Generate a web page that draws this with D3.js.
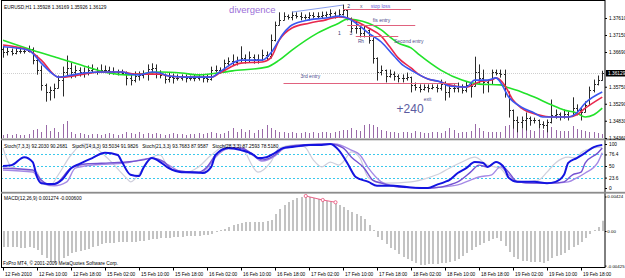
<!DOCTYPE html>
<html><head><meta charset="utf-8">
<script src="https://cdn.jsdelivr.net/npm/d3@7"></script>
<style>body{margin:0;background:#fff}svg{display:block}text{font-family:"Liberation Sans",Arial,sans-serif}</style>
</head><body><svg id="c" width="625" height="278"></svg>
<script>
// ---------------- DATA ----------------
const open=[1.3677,1.3669,1.3672,1.3666,1.3672,1.3672,1.3672,1.3677,1.3647,1.3620,
1.3580,1.3561,1.3566,1.3572,1.3593,1.3615,1.3626,1.3615,1.3620,1.3615,
1.3612,1.3620,1.3623,1.3618,1.3620,1.3620,1.3618,1.3615,1.3615,1.3612,
1.3599,1.3593,1.3604,1.3607,1.3609,1.3623,1.3626,1.3609,1.3607,1.3596,
1.3601,1.3599,1.3599,1.3601,1.3599,1.3599,1.3599,1.3601,1.3599,1.3596,
1.3620,1.3620,1.3620,1.3639,1.3645,1.3642,1.3647,1.3653,1.3647,1.3655,
1.3650,1.3647,1.3661,1.3658,1.3701,1.3742,1.3756,1.3766,1.3764,1.3769,
1.3766,1.3764,1.3764,1.3769,1.3766,1.3766,1.3769,1.3772,1.3775,1.3766,
1.3772,1.3783,1.3761,1.3734,1.3734,1.3720,1.3729,1.3701,1.3653,1.3615,
1.3620,1.3604,1.3609,1.3604,1.3599,1.3599,1.3601,1.3580,1.3574,1.3569,
1.3574,1.3572,1.3574,1.3572,1.3582,1.3561,1.3572,1.3572,1.3577,1.3566,
1.3580,1.3577,1.3615,1.3599,1.3588,1.3582,1.3615,1.3612,1.3609,1.3561,
1.3512,1.3485,1.3480,1.3485,1.3490,1.3485,1.3485,1.3474,1.3471,1.3480,
1.3499,1.3501,1.3496,1.3501,1.3496,1.3517,1.3512,1.3507,1.3526,1.3566,
1.3582,1.35928];
const high=[1.3683,1.3680,1.3677,1.3680,1.3677,1.3674,1.3685,1.3680,1.3658,1.3631,
1.3582,1.3574,1.3582,1.3604,1.3628,1.3658,1.3639,1.3631,1.3626,1.3626,
1.3631,1.3634,1.3626,1.3634,1.3631,1.3628,1.3626,1.3620,1.3620,1.3615,
1.3609,1.3615,1.3615,1.3618,1.3634,1.3637,1.3634,1.3618,1.3609,1.3612,
1.3609,1.3607,1.3607,1.3607,1.3604,1.3607,1.3607,1.3607,1.3607,1.3628,
1.3631,1.3626,1.3647,1.3653,1.3661,1.3655,1.3683,1.3661,1.3669,1.3661,
1.3661,1.3674,1.3669,1.3715,1.3750,1.3775,1.3775,1.3769,1.3777,1.3775,
1.3775,1.3769,1.3775,1.3775,1.3775,1.3777,1.3777,1.3783,1.3777,1.3783,
1.3796,1.3783,1.3761,1.3750,1.3739,1.3739,1.3729,1.3707,1.3653,1.3631,
1.3620,1.3620,1.3615,1.3607,1.3607,1.3612,1.3601,1.3585,1.3580,1.3580,
1.3580,1.3580,1.3580,1.3593,1.3588,1.3580,1.3580,1.3585,1.3580,1.3588,
1.3585,1.3655,1.3634,1.3620,1.3593,1.3620,1.3620,1.3620,1.3620,1.3561,
1.3512,1.3493,1.3493,1.3504,1.3493,1.3490,1.3485,1.3480,1.3485,1.3539,
1.3512,1.3504,1.3512,1.3507,1.3545,1.3526,1.3517,1.3534,1.3574,1.3593,
1.3604,1.36169];
const low=[1.3655,1.3661,1.3661,1.3664,1.3666,1.3666,1.3669,1.3637,1.3609,1.3566,
1.3536,1.3539,1.3545,1.3572,1.3550,1.3604,1.3599,1.3601,1.3604,1.3601,
1.3607,1.3615,1.3609,1.3615,1.3615,1.3609,1.3609,1.3607,1.3609,1.3580,
1.3580,1.3588,1.3593,1.3599,1.3593,1.3612,1.3599,1.3599,1.3585,1.3588,
1.3585,1.3593,1.3593,1.3588,1.3593,1.3591,1.3593,1.3588,1.3588,1.3593,
1.3615,1.3612,1.3620,1.3634,1.3634,1.3634,1.3642,1.3639,1.3642,1.3639,
1.3639,1.3647,1.3647,1.3653,1.3699,1.3742,1.3756,1.3758,1.3756,1.3761,
1.3756,1.3758,1.3756,1.3761,1.3761,1.3761,1.3764,1.3764,1.3761,1.3764,
1.3769,1.3756,1.3723,1.3720,1.3710,1.3710,1.3693,1.3639,1.3593,1.3607,
1.3588,1.3601,1.3593,1.3588,1.3588,1.3593,1.3561,1.3566,1.3561,1.3566,
1.3561,1.3569,1.3561,1.3566,1.3539,1.3547,1.3561,1.3561,1.3558,1.3561,
1.3547,1.3577,1.3585,1.3558,1.3561,1.3582,1.3607,1.3601,1.3547,1.3493,
1.3463,1.3453,1.3463,1.3458,1.3471,1.3477,1.3463,1.3463,1.3453,1.3477,
1.3490,1.3485,1.3490,1.3485,1.3496,1.3499,1.3485,1.3507,1.3526,1.3561,
1.3580,1.35926];
const close=[1.3669,1.3672,1.3666,1.3672,1.3672,1.3672,1.3677,1.3647,1.3620,1.3580,
1.3561,1.3566,1.3572,1.3593,1.3615,1.3626,1.3615,1.3620,1.3615,1.3612,
1.3620,1.3623,1.3618,1.3620,1.3620,1.3618,1.3615,1.3615,1.3612,1.3599,
1.3593,1.3604,1.3607,1.3609,1.3623,1.3626,1.3609,1.3607,1.3596,1.3601,
1.3599,1.3599,1.3601,1.3599,1.3599,1.3599,1.3601,1.3599,1.3596,1.3620,
1.3620,1.3620,1.3639,1.3645,1.3642,1.3647,1.3653,1.3647,1.3655,1.3650,
1.3647,1.3661,1.3658,1.3701,1.3742,1.3756,1.3766,1.3764,1.3769,1.3766,
1.3764,1.3764,1.3769,1.3766,1.3766,1.3769,1.3772,1.3775,1.3766,1.3772,
1.3783,1.3761,1.3734,1.3734,1.3720,1.3729,1.3701,1.3653,1.3615,1.3620,
1.3604,1.3609,1.3604,1.3599,1.3599,1.3601,1.3580,1.3574,1.3569,1.3574,
1.3572,1.3574,1.3572,1.3582,1.3561,1.3572,1.3572,1.3577,1.3566,1.3580,
1.3577,1.3615,1.3599,1.3588,1.3582,1.3615,1.3612,1.3609,1.3561,1.3512,
1.3485,1.3480,1.3485,1.3490,1.3485,1.3485,1.3474,1.3471,1.3480,1.3499,
1.3501,1.3496,1.3501,1.3496,1.3517,1.3512,1.3507,1.3526,1.3566,1.3582,
1.3593,1.36129];
const volume=[750,1000,750,1000,750,750,1000,2000,2250,1500,3250,1750,2500,1500,3500,4250,1500,
1000,1250,1000,750,1000,1000,750,1000,1250,1000,750,1000,
1500,1250,1000,1500,1000,1250,1000,1250,
1000,750,1000,1250,1000,1000,750,1000,1000,1250,1000,1250,
1500,1250,1000,1250,1750,2500,1500,2250,1500,2000,1250,2000,2250,3250,2500,2000,1500,1500,
1250,1500,1250,1250,1500,1250,1500,1250,1500,1500,1250,1500,1750,2000,
2000,2500,2000,1750,3250,3500,3250,2750,2000,1750,1500,1500,
1250,1500,1500,1250,1750,1500,1250,1250,1500,1500,1250,1750,2500,2000,1250,1500,1500,1750,
3500,2500,1750,1500,1500,1500,1500,3000,3250,2500,3000,2250,2500,2000,1750,2250,2000,2500,2750,2000,1750,1750,1750,3000,2250,2000,1750,1500,1500,1250,1000];
// moving averages, sampled [bar, price]
const maFast=[[0,1.3683],[6,1.3674],[9,1.3639],[12,1.3607],[13,1.3601],[15,1.3604],[19,1.3612],[23,1.3615],[28,1.3615],[30,1.3609],[32,1.3607],[35,1.3615],[37,1.3612],[39,1.3604],[43,1.3601],[49,1.3601],[51,1.3615],[56,1.3647],[61,1.3647],[63,1.3666],[66,1.3720],[68,1.3742],[72,1.3756],[76,1.3761],[79,1.3766],[81,1.3761],[84,1.3739],[86,1.3720],[89,1.3696],[92,1.3658],[94,1.3634],[96,1.3620],[100,1.3596],[103,1.3588],[105,1.3577],[109,1.3574],[111,1.3593],[114,1.3593],[116,1.3599],[117,1.3588],[119,1.3547],[122,1.3520],[125,1.3504],[127,1.3493],[133,1.3493],[135,1.3504],[137,1.3531],[141,1.3561]];
const maMid=[[0,1.3688],[6,1.3674],[9,1.3647],[13,1.3601],[14,1.3601],[19,1.3609],[23,1.3615],[28,1.3615],[31,1.3609],[37,1.3609],[39,1.3604],[43,1.3601],[49,1.3601],[51,1.3612],[56,1.3639],[61,1.3642],[63,1.3653],[65,1.3701],[68,1.3734],[72,1.3747],[76,1.3756],[79,1.3764],[81,1.3761],[84,1.3747],[86,1.3734],[89,1.3712],[91,1.3683],[93,1.3653],[96,1.3626],[98,1.3607],[100,1.3596],[103,1.3588],[105,1.3580],[109,1.3574],[112,1.3588],[115,1.3593],[116,1.3599],[118,1.3580],[120,1.3539],[122,1.3517],[126,1.3499],[129,1.3493],[133,1.3493],[135,1.3499],[137,1.3517],[141,1.3547]];
const maSlow=[[0,1.3701],[7,1.3674],[13,1.3653],[20,1.3628],[25,1.3612],[29,1.3607],[32,1.3609],[37,1.3615],[42,1.3612],[46,1.3607],[54,1.3618],[62,1.3628],[65,1.3647],[68,1.3674],[74,1.3720],[79,1.3747],[81,1.3758],[83,1.3756],[86,1.3747],[89,1.3729],[91,1.3710],[93,1.3693],[96,1.3680],[98,1.3661],[103,1.3620],[108,1.3593],[112,1.3582],[117,1.3580],[119,1.3572],[122,1.3561],[125,1.3547],[129,1.3526],[132,1.3512],[135,1.3504],[137,1.3493],[139,1.3499],[141,1.3517]];
// stochastics, sampled [bar, value]
const stoch7=[[0,91],[2,48],[5,41],[8,36],[9,14],[11,5],[13,30],[16,75],[19,100],[20,100],[23,82],[25,64],[29,23],[30,14],[33,45],[35,70],[37,75],[39,45],[43,36],[46,48],[49,75],[53,98],[56,98],[57,82],[59,45],[60,36],[63,59],[65,91],[69,98],[71,93],[73,64],[75,48],[77,59],[79,52],[80,59],[82,82],[84,68],[86,23],[90,11],[96,14],[100,23],[103,34],[105,45],[108,59],[111,70],[114,52],[117,45],[119,23],[123,14],[126,18],[128,36],[130,57],[133,70],[135,68],[136,80],[139,91],[141,93]];
const stoch14=[[0,50],[2,52],[5,70],[7,59],[8,25],[9,11],[12,9],[14,20],[16,45],[18,55],[21,68],[24,80],[27,75],[28,59],[30,30],[32,27],[33,45],[35,68],[37,59],[39,45],[42,36],[44,36],[47,34],[49,48],[50,75],[53,91],[56,86],[59,75],[60,68],[62,70],[64,80],[66,91],[68,93],[72,98],[75,98],[77,100],[79,86],[81,57],[83,25],[86,14],[88,5],[92,5],[95,2],[98,0],[100,0],[102,7],[104,14],[105,18],[107,34],[109,45],[111,59],[113,57],[114,48],[116,59],[118,45],[119,23],[121,14],[125,14],[128,11],[130,14],[132,30],[133,57],[135,68],[137,80],[139,93],[141,98]];
const stoch21=[[0,45],[7,41],[9,18],[11,7],[13,14],[16,45],[20,55],[25,57],[29,59],[33,64],[35,68],[38,59],[40,41],[46,36],[48,48],[50,75],[53,91],[56,91],[59,75],[61,64],[64,75],[66,91],[70,98],[77,100],[80,91],[82,70],[85,45],[87,18],[89,11],[93,2],[100,0],[103,2],[105,7],[107,14],[110,36],[112,52],[114,48],[116,59],[119,36],[121,14],[125,11],[129,11],[132,14],[134,30],[136,36],[137,57],[140,80],[141,91]];
const stoch28=[[0,41],[7,36],[9,14],[12,5],[15,14],[17,45],[21,52],[29,57],[35,68],[39,52],[42,36],[46,34],[48,45],[50,70],[53,89],[56,89],[59,73],[61,61],[64,73],[66,89],[70,95],[78,100],[82,86],[84,75],[86,45],[89,14],[91,7],[96,2],[100,0],[103,2],[107,7],[110,18],[112,25],[115,30],[117,48],[119,30],[121,14],[125,11],[129,11],[133,14],[135,23],[137,34],[140,59],[141,80]];
const macd=[-0.00197,-0.00197,-0.00197,-0.00197,-0.00209,-0.00209,-0.00197,-0.00209,
-0.00234,-0.00295,-0.00332,-0.00381,-0.00393,-0.00369,-0.00332,-0.00307,
-0.00270,-0.00258,-0.00246,-0.00234,-0.00221,-0.00197,-0.00184,-0.00160,
-0.00147,-0.00147,-0.00147,-0.00135,-0.00135,-0.00135,-0.00135,-0.00135,
-0.00123,-0.00123,-0.00111,-0.00098,-0.00098,-0.00086,-0.00086,-0.00086,
-0.00074,-0.00074,-0.00074,-0.00061,-0.00061,-0.00061,-0.00061,-0.00049,
-0.00049,-0.00037,-0.00012,0.00012,0.00025,0.00049,0.00074,0.00086,
0.00098,0.00111,0.00111,0.00111,0.00111,0.00111,0.00123,0.00135,
0.00209,0.00270,0.00320,0.00356,0.00381,0.00406,0.00418,0.00430,
0.00418,0.00406,0.00393,0.00381,0.00369,0.00356,0.00344,0.00320,
0.00295,0.00258,0.00234,0.00209,0.00184,0.00147,0.00074,0.00012,
-0.00074,-0.00111,-0.00160,-0.00209,-0.00234,-0.00283,-0.00320,-0.00344,
-0.00369,-0.00393,-0.00418,-0.00418,-0.00406,-0.00406,-0.00406,-0.00393,
-0.00393,-0.00381,-0.00369,-0.00344,-0.00307,-0.00270,-0.00234,-0.00197,
-0.00172,-0.00147,-0.00123,-0.00098,-0.00086,-0.00123,-0.00184,-0.00258,
-0.00320,-0.00344,-0.00369,-0.00369,-0.00381,-0.00381,-0.00381,-0.00393,
-0.00369,-0.00332,-0.00307,-0.00295,-0.00270,-0.00234,-0.00197,-0.00172,
-0.00135,-0.00086,-0.00037,0.00012,0.00049,0.00127];
// hand-drawn objects
const divergencePrice=[[68,1.3777],[80,1.3796]];
const divergenceMacd=[[71,0.00430],[75,0.00381],[78,0.00353]];
const levelPrice=[1.3785,1.3742,1.3712,1.3585];
const levelFrom=[80,81,83,66];
const levelTo=[96,97,93,107];
const noteText=['divergence','x','stop loss','fis entry','Rh','Second entry','3rd entry','exit','+240','1','2','3'];
const noteBar=[53.2,84,86.5,87,83.5,92,70,99,92.6,78.8,81,81.5];
const notePrice=[1.3775,1.3788,1.3789,1.3749,1.3693,1.3693,1.3599,1.3536,1.3503,1.3715,1.3787,1.3715];
// axes
const priceTicks=[1.3761,1.3715,1.3669,1.3575,1.3529,1.3483,1.3436];
const lastPrice=1.36129;
const stochTicks=[100,76.4,50,23.6,0];
const stochLevels=[76.4,50,23.6];
const macdTicks=[0.00424,0,-0.00425];
const timeBars=[0,8,16,24,32,40,48,56,64,72,80,88,96,104,112,120,128,136];
const timeLabels=['12 Feb 2010','12 Feb 10:00','12 Feb 18:00','15 Feb 02:00','15 Feb 10:00','15 Feb 18:00','16 Feb 02:00','16 Feb 10:00','16 Feb 18:00','17 Feb 02:00','17 Feb 10:00','17 Feb 18:00','18 Feb 02:00','18 Feb 10:00','18 Feb 18:00','19 Feb 02:00','19 Feb 10:00','19 Feb 18:00'];
const headerMain='EURUSD,H1  1.35928 1.36169 1.35926 1.36129';
const stochNames=['Stoch(7,3,3) 92.2030 90.2681','Stoch(14,3,3) 93.5034 91.9826','Stoch(21,3,3) 93.7683 87.9587','Stoch(28,3,3) 87.2593 78.5180'];
const headerMacd='MACD(12,26,9) 0.001274 -0.000600';
const footer='FxPro MT4, © 2001-2009 MetaQuotes Software Corp.';

// ---------------- DRAW ----------------
const svg=d3.select('#c');
const R=605;
const x=d3.scaleLinear().domain([0,141]).range([3,602.25]);
const yP=d3.scaleLinear().domain([1.3439,1.3761]).range([137,18]);
const yV=d3.scaleLinear().domain([0,5000]).range([138,118]);
const yS=d3.scaleLinear().domain([0,100]).range([188,144]);
const yM=d3.scaleLinear().domain([-0.00424,0.00424]).range([265.5,196.5]);
const px=i=>Math.round(x(i))+0.5;

const defs=svg.append('defs');
[['cm',1,1,R-1,137],['cs',1,140,R-1,51],['cd',1,194,R-1,73]].forEach(c=>{
  defs.append('clipPath').attr('id',c[0]).append('rect').attr('x',c[1]).attr('y',c[2]).attr('width',c[3]).attr('height',c[4]);
});
svg.append('rect').attr('width',625).attr('height',278).attr('fill','#fff');

// main panel
const gm=svg.append('g').attr('clip-path','url(#cm)');
gm.append('line').attr('x1',1).attr('x2',R).attr('y1',Math.round(yP(lastPrice))+0.5).attr('y2',Math.round(yP(lastPrice))+0.5).attr('stroke','#cfcfcf').attr('stroke-dasharray','1,1');
gm.append('g').attr('stroke','#9a6aa8').attr('stroke-width',1).selectAll('line').data(volume).join('line')
  .attr('x1',(d,i)=>px(i)).attr('x2',(d,i)=>px(i)).attr('y1',yV(0)).attr('y2',d=>yV(d));
const idx=d3.range(close.length);
const gb=gm.append('g').attr('stroke','#2a2a2a').attr('stroke-width',1);
gb.selectAll('.hl').data(idx).join('line').attr('x1',px).attr('x2',px).attr('y1',i=>yP(high[i])-0.5).attr('y2',i=>yP(low[i])+0.5);
gb.selectAll('.op').data(idx).join('line').attr('x1',i=>px(i)-1.5).attr('x2',i=>px(i)).attr('y1',i=>Math.round(yP(open[i]))+0.5).attr('y2',i=>Math.round(yP(open[i]))+0.5);
gb.selectAll('.cl').data(idx).join('line').attr('x1',i=>px(i)).attr('x2',i=>px(i)+1.5).attr('y1',i=>Math.round(yP(close[i]))+0.5).attr('y2',i=>Math.round(yP(close[i]))+0.5);

const lineP=d3.line().x(d=>x(d[0])).y(d=>yP(d[1])).curve(d3.curveMonotoneX);
gm.append('path').attr('d',lineP(maSlow)).attr('fill','none').attr('stroke','#22e22a').attr('stroke-width',1.6);
gm.append('path').attr('d',lineP(maMid)).attr('fill','none').attr('stroke','#e8284e').attr('stroke-width',1.6);
gm.append('path').attr('d',lineP(maFast)).attr('fill','none').attr('stroke','#3a56f0').attr('stroke-width',1.6);
gm.append('path').attr('d',d3.line().x(d=>x(d[0])).y(d=>yP(d[1]))(divergencePrice)).attr('fill','none').attr('stroke','#6b86e8').attr('stroke-width',0.8);
levelPrice.forEach((p,k)=>{
  gm.append('line').attr('x1',x(levelFrom[k])).attr('x2',x(levelTo[k])).attr('y1',Math.round(yP(p))+0.5).attr('y2',Math.round(yP(p))+0.5).attr('stroke','#e0627e').attr('stroke-width',1);
});
const noteSize=[9.5,5,5,5,4.8,5,5,4.8,12,5,5,5];
const noteColor=['#9b6fd8','#555577','#6a5ad8','#4a4a8a','#4a4a8a','#4a4a8a','#4a4a8a','#4a4a8a','#5b5ba0','#333366','#333366','#333366'];
noteText.forEach((t,k)=>{
  gm.append('text').attr('x',x(noteBar[k])).attr('y',yP(notePrice[k])).attr('font-size',noteSize[k]).attr('fill',noteColor[k]).text(t);
});

// stochastic panel
const gs=svg.append('g').attr('clip-path','url(#cs)');
stochLevels.forEach(v=>{
  gs.append('line').attr('x1',1).attr('x2',R).attr('y1',Math.round(yS(v))+0.5).attr('y2',Math.round(yS(v))+0.5).attr('stroke','#3cc8ec').attr('stroke-dasharray','2,2');
});
const lineS=d3.line().x(d=>x(d[0])).y(d=>yS(d[1])).curve(d3.curveMonotoneX);
gs.append('path').attr('d',lineS(stoch7)).attr('fill','none').attr('stroke','#cfcfdc').attr('stroke-width',1.2);
gs.append('path').attr('d',lineS(stoch28)).attr('fill','none').attr('stroke','#a58ae6').attr('stroke-width',1.4);
gs.append('path').attr('d',lineS(stoch21)).attr('fill','none').attr('stroke','#7552d2').attr('stroke-width',1.4);
gs.append('path').attr('d',lineS(stoch14)).attr('fill','none').attr('stroke','#1414e0').attr('stroke-width',2);

// MACD panel
const gd=svg.append('g').attr('clip-path','url(#cd)');
gd.append('g').attr('stroke','#c3c3c3').attr('stroke-width',2).selectAll('line').data(macd).join('line')
  .attr('x1',(d,i)=>Math.round(x(i))+1).attr('x2',(d,i)=>Math.round(x(i))+1).attr('y1',yM(0)).attr('y2',d=>yM(d));
gd.append('path').attr('d',d3.line().x(d=>x(d[0])+1).y(d=>yM(d[1]))(divergenceMacd)).attr('fill','none').attr('stroke','#e8507a').attr('stroke-width',0.9);
gd.selectAll('circle').data(divergenceMacd).join('circle').attr('cx',d=>x(d[0])+1).attr('cy',d=>yM(d[1])).attr('r',1.6).attr('fill','#fff').attr('stroke','#e8507a').attr('stroke-width',0.8);

// frames & separators
svg.append('rect').attr('x',1.5).attr('y',0.5).attr('width',R-1.5).attr('height',267).attr('fill','none').attr('stroke','#000');
svg.append('rect').attr('x',1).attr('y',138.5).attr('width',624).attr('height',1.8).attr('fill','#8c8c8c');
svg.append('rect').attr('x',1).attr('y',191.8).attr('width',624).attr('height',1.8).attr('fill','#8c8c8c');

// headers
const small=4.8;
svg.append('text').attr('x',4).attr('y',9).attr('font-size',small).attr('fill','#000').text(headerMain);
const stochX=[0,16,32.5,49];
stochNames.forEach((t,k)=>svg.append('text').attr('x',x(stochX[k])+1).attr('y',147.5).attr('font-size',small).attr('fill','#000').text(t));
svg.append('text').attr('x',4).attr('y',200).attr('font-size',small).attr('fill','#000').text(headerMacd);
svg.append('text').attr('x',3).attr('y',265).attr('font-size',small).attr('fill','#000').text(footer);

// axes
function styleAxis(g,fs){g.select('.domain').remove();g.selectAll('text').attr('font-size',fs||small).attr('fill','#000').attr('font-family','Liberation Sans, Arial, sans-serif');g.selectAll('line').attr('stroke','#000');}
svg.append('g').attr('transform',`translate(${R},0)`).call(d3.axisRight(yP).tickValues(priceTicks).tickSize(2).tickPadding(2).tickFormat(d3.format('.5f'))).call(styleAxis);
const yl=Math.round(yP(lastPrice));
svg.append('rect').attr('x',R+1).attr('y',yl-3).attr('width',19).attr('height',6.5).attr('fill','#000');
svg.append('text').attr('x',R+3).attr('y',yl+2).attr('font-size',small).attr('fill','#fff').text(d3.format('.5f')(lastPrice));
svg.append('g').attr('transform',`translate(${R},0)`).call(d3.axisRight(yS).tickValues(stochTicks).tickSize(2).tickPadding(2).tickFormat(d=>String(d))).call(styleAxis);
svg.append('g').attr('transform',`translate(${R},0)`).call(d3.axisRight(yM).tickValues(macdTicks).tickSize(1.5).tickPadding(0.8).tickFormat(d=>d===0?'0.00':d.toFixed(5))).call(g=>styleAxis(g,4.4));
const tx=svg.append('g').attr('transform','translate(0,267.5)').call(d3.axisBottom(x).tickValues(timeBars).tickSize(3).tickPadding(2).tickFormat((d,k)=>timeLabels[k])).call(styleAxis);
tx.selectAll('text').attr('text-anchor','start').attr('dx',1.5);
</script></body></html>
